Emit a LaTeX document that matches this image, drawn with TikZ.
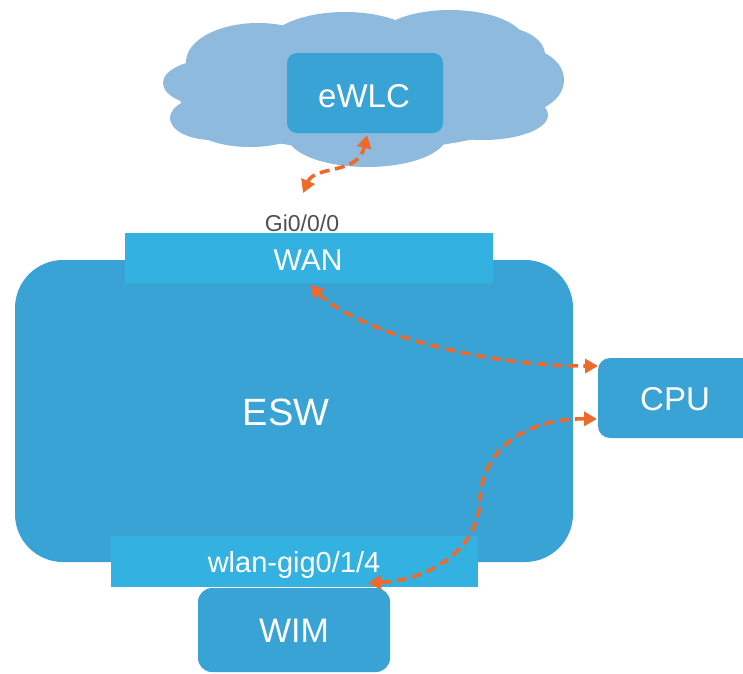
\documentclass[tikz,border=0pt]{standalone}
\usepackage{fontspec}
\setmainfont{Liberation Sans}
\usetikzlibrary{arrows.meta}
\definecolor{eswblue}{HTML}{3AA3D6}
\definecolor{barblue}{HTML}{33B1E0}
\definecolor{cloudblue}{HTML}{8DBADD}
\definecolor{linkorange}{HTML}{EE6A2C}
\definecolor{portgray}{HTML}{505050}
\begin{document}
\begin{tikzpicture}[x=1pt,y=-1pt,
  blockbox/.style={fill=eswblue, draw=none, inner sep=0, rounded corners=#1},
  barbox/.style={fill=barblue, draw=none, inner sep=0},
  lbl/.style={anchor=base, inner sep=0, text=white},
  link/.style={draw=linkorange, line width=3.6pt, dash pattern=on 10pt off 5.5pt,
    {Triangle[length=13pt,width=14pt]}-{Triangle[length=13pt,width=14pt]}}
]
\clip (0,0) rectangle (743,673);
\fill[white] (0,0) rectangle (743,673);
% cloud
\begin{scope}[fill=cloudblue]
\fill (365,90) ellipse [x radius=188, y radius=60];
\fill (345,48) ellipse [x radius=80, y radius=36];
\fill (450,42) ellipse [x radius=75, y radius=32];
\fill (258,62) ellipse [x radius=72, y radius=39];
\fill (215,83) ellipse [x radius=52, y radius=24];
\fill (212,118) ellipse [x radius=42, y radius=22];
\fill (250,122) ellipse [x radius=60, y radius=25];
\fill (367,135) ellipse [x radius=80, y radius=32];
\fill (483,115) ellipse [x radius=65, y radius=25];
\fill (522,80) ellipse [x radius=42, y radius=32];
\fill (500,55) ellipse [x radius=45, y radius=28];
\end{scope}
% boxes
\node[blockbox=10pt, minimum width=156pt, minimum height=80pt] (ewlc) at (365,93) {};
\node[blockbox=48pt, minimum width=558pt, minimum height=302pt] (esw) at (294,411) {};
\node[barbox, minimum width=368pt, minimum height=50pt] (wan) at (309,258) {};
\node[blockbox=14pt, minimum width=192pt, minimum height=84pt] (wim) at (294,630) {};
\node[barbox, minimum width=367pt, minimum height=51pt] (wlan) at (294.5,561.5) {};
\node[blockbox=12pt, minimum width=172pt, minimum height=80pt] (cpu) at (684,398) {};
% texts
\node[lbl, font=\fontsize{33}{38}\selectfont] (ewlct) at (364,107) {eWLC};
\node[lbl, text=portgray, font=\fontsize{23}{27}\selectfont] (gi) at (302,231) {Gi0/0/0};
\node[lbl, font=\fontsize{30}{35}\selectfont] (want) at (308,270) {WAN};
\node[lbl, font=\fontsize{38}{44}\selectfont] (eswt) at (286,425) {ESW};
\node[lbl, font=\fontsize{33}{38}\selectfont] (cput) at (675,410) {CPU};
\node[lbl, font=\fontsize{29}{34}\selectfont] (wlant) at (294,572) {wlan-gig0/1/4};
\node[lbl, font=\fontsize{34}{40}\selectfont] (wimt) at (294,642) {WIM};
% link end points
\coordinate (ewlcport) at (367,135);
\coordinate (giport) at (303,193);
\coordinate (wanport) at (310,285);
\coordinate (cpuin1) at (598,366);
\coordinate (cpuin2) at (597,419);
\coordinate (wimport) at (368,583);
\coordinate (midturn) at (480,500);
% links
\draw[link] (giport) .. controls (315,165) and (358,175) .. (ewlcport);
\draw[link] (wanport) .. controls (358,332) and (480,366) .. (cpuin1);
\draw[link] (cpuin2) .. controls (528,418) and (482,448) .. (midturn)
  .. controls (478,550) and (430,580) .. (wimport);
\end{tikzpicture}
\end{document}
